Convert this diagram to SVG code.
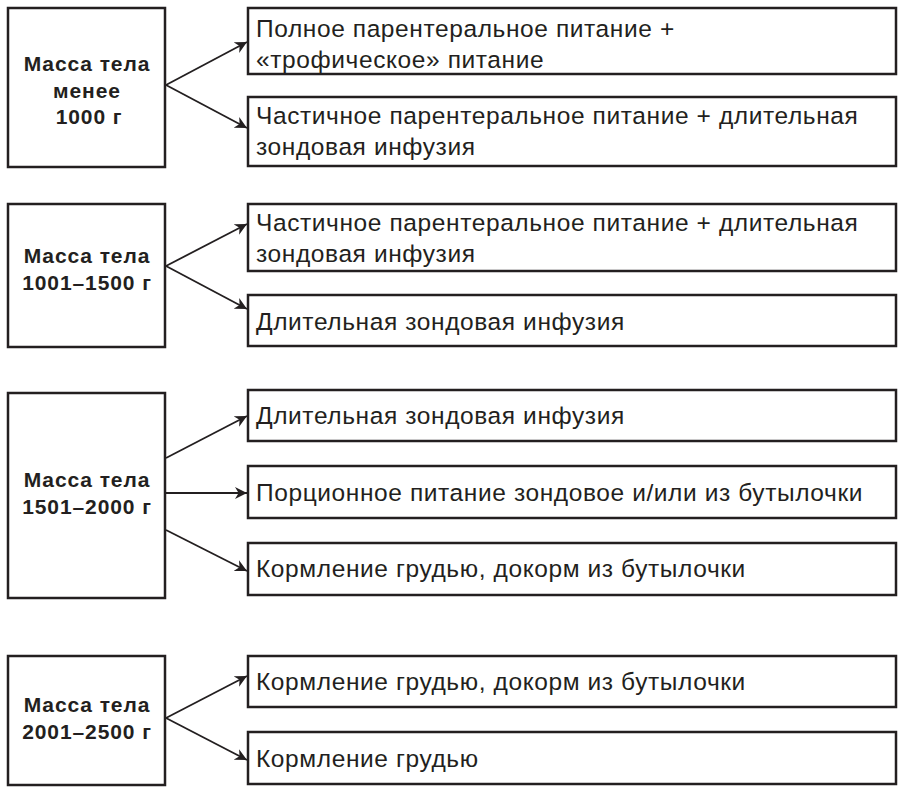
<svg xmlns="http://www.w3.org/2000/svg" width="905" height="793" viewBox="0 0 905 793">
<defs>
<style>
rect{fill:#fff;stroke:#231f20;stroke-width:2.5}
.l{font-family:"Liberation Sans",Arial,sans-serif;font-weight:bold;font-size:21px;letter-spacing:0.9px;text-anchor:middle;fill:#231f20}
.r{font-family:"Liberation Sans",Arial,sans-serif;font-size:24.5px;letter-spacing:0.6px;fill:#231f20}
#c line{stroke:#231f20;stroke-width:1.8;marker-end:url(#a)}
</style>
<marker id="a" viewBox="0 0 10 10" refX="10" refY="5" markerWidth="12" markerHeight="12" markerUnits="userSpaceOnUse" orient="auto"><path d="M0,0 L10,5 L0,10 L3,5 z" fill="#231f20"/></marker>
</defs>
<rect width="905" height="793" style="stroke:none"/>
<g id="c">
<line x1="166" y1="85" x2="247" y2="42"/>
<line x1="166" y1="85" x2="247" y2="128"/>
<line x1="166" y1="266" x2="247" y2="224"/>
<line x1="166" y1="266" x2="247" y2="309"/>
<line x1="166" y1="458" x2="247" y2="416"/>
<line x1="166" y1="493" x2="247" y2="493"/>
<line x1="166" y1="530" x2="247" y2="571"/>
<line x1="166" y1="718" x2="247" y2="676"/>
<line x1="166" y1="718" x2="247" y2="760"/>
</g>
<g id="n1"><rect x="8" y="8" width="157" height="159"/><text class="l" x="87" y="71">Масса тела</text><text class="l" x="87" y="98">менее</text><text class="l" x="89" y="124">1000 г</text></g>
<g id="n2"><rect x="8" y="204" width="157" height="143"/><text class="l" x="87" y="263">Масса тела</text><text class="l" x="87" y="290">1001–1500 г</text></g>
<g id="n3"><rect x="8" y="393" width="157" height="205"/><text class="l" x="87" y="487">Масса тела</text><text class="l" x="87" y="514">1501–2000 г</text></g>
<g id="n4"><rect x="8" y="656" width="157" height="129"/><text class="l" x="87" y="712">Масса тела</text><text class="l" x="87" y="739">2001–2500 г</text></g>
<g id="r1"><rect x="248" y="8" width="648" height="66"/><text class="r" x="256" y="37">Полное парентеральное питание +</text><text class="r" x="256" y="68">«трофическое» питание</text></g>
<g id="r2"><rect x="248" y="97" width="648" height="69"/><text class="r" x="256" y="124">Частичное парентеральное питание + длительная</text><text class="r" x="256" y="155">зондовая инфузия</text></g>
<g id="r3"><rect x="248" y="204" width="648" height="67"/><text class="r" x="256" y="231">Частичное парентеральное питание + длительная</text><text class="r" x="256" y="262">зондовая инфузия</text></g>
<g id="r4"><rect x="248" y="295" width="648" height="51"/><text class="r" x="256" y="330">Длительная зондовая инфузия</text></g>
<g id="r5"><rect x="248" y="390" width="648" height="51"/><text class="r" x="256" y="424">Длительная зондовая инфузия</text></g>
<g id="r6"><rect x="248" y="466" width="648" height="52"/><text class="r" x="256" y="501">Порционное питание зондовое и/или из бутылочки</text></g>
<g id="r7"><rect x="248" y="543" width="648" height="52"/><text class="r" x="256" y="577">Кормление грудью, докорм из бутылочки</text></g>
<g id="r8"><rect x="248" y="656" width="648" height="51"/><text class="r" x="256" y="690">Кормление грудью, докорм из бутылочки</text></g>
<g id="r9"><rect x="248" y="732" width="648" height="52"/><text class="r" x="256" y="767">Кормление грудью</text></g>
</svg>
